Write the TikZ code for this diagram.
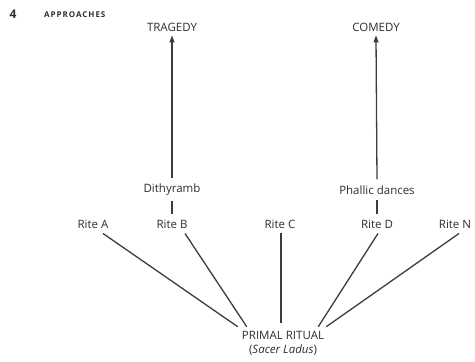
\documentclass[tikz,border=0pt]{standalone}
\usepackage{fontspec}
\setmainfont{Open Sans}
\usetikzlibrary{calc,arrows.meta}
\definecolor{ink}{HTML}{2E2E2E}
\definecolor{wire}{HTML}{3C3C3C}
\begin{document}
\begin{tikzpicture}[x=1pt,y=-1pt,
  lbl/.style={inner sep=0pt,text=ink,font=\fontsize{11.5}{13}\selectfont},
  conn/.style={draw=wire,line width=1.3pt},
  arr/.style={conn,-{Triangle[length=7pt,width=5pt]}}]
\useasboundingbox (0,0) rectangle (475,362);
\node[inner sep=0pt,text=ink,font=\bfseries\fontsize{12}{14}\selectfont] (num) at (13,14) {4};
\node[inner sep=0pt,anchor=west,text=ink,font=\bfseries\fontsize{8}{10}\selectfont\addfontfeatures{LetterSpace=12}] (head) at (44,15) {APPROACHES};
\node[lbl] (trag) at (172,27) {TRAGEDY};
\node[lbl] (com) at (376,27) {COMEDY};
\node[lbl] (dith) at (172,190) {Dithyramb};
\node[lbl] (phal) at (377,190) {Phallic dances};
\node[lbl] (ra) at (93,224) {Rite A};
\node[lbl] (rb) at (172,224) {Rite B};
\node[lbl] (rc) at (280,224) {Rite C};
\node[lbl] (rd) at (377,224) {Rite D};
\node[lbl] (rn) at (455,224) {Rite N};
\node[lbl,align=center] (pr) at (283,343) {PRIMAL RITUAL\\[1pt]({\itshape Sacer Ladus})};
\draw[arr] ($(dith.north)+(0,-6)$) -- ($(trag.south)+(0,4)$);
\draw[arr] ($(phal.north)+(0,-6)$) -- ($(com.south)+(0,4)$);
\draw[conn] ($(dith.south)+(0,5)$) -- ($(rb.north)+(0,-6)$);
\draw[conn] ($(phal.south)+(0,5)$) -- ($(rd.north)+(0,-6)$);
\draw[conn] ($(ra.south)+(10,5)$) -- ($(pr.north west)+(-4,-4)$);
\draw[conn] ($(rb.south)+(13,5)$) -- ($(pr.north west)+(5,-4)$);
\draw[conn] ($(rc.south)+(1,5)$) -- ($(rc.south)+(1,95)$);
\draw[conn] ($(rd.south)+(1,5)$) -- ($(pr.north east)+(-6,-4)$);
\draw[conn] ($(rn.south)+(4,5)$) -- ($(pr.north east)+(2,-4)$);
\end{tikzpicture}
\end{document}
